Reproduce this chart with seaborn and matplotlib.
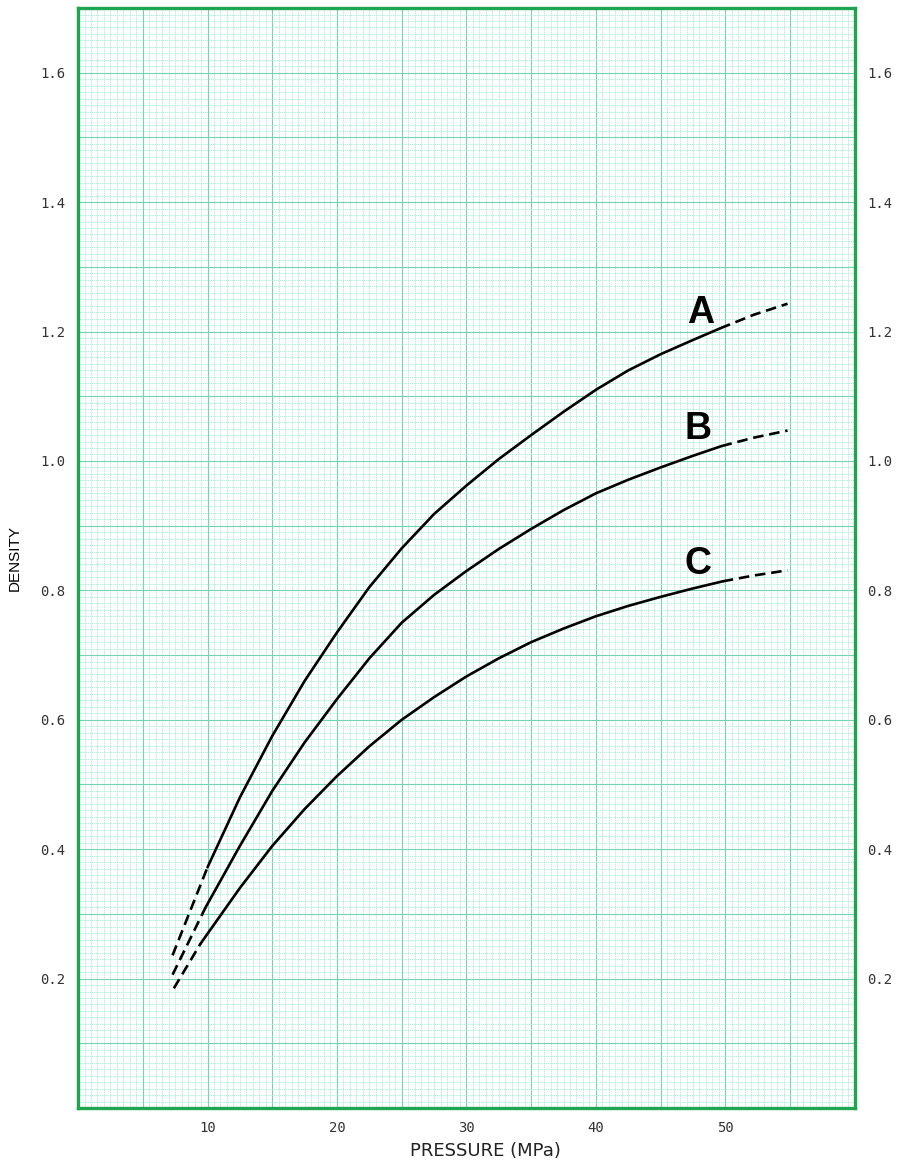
import pandas as pd
import matplotlib
matplotlib.use('Agg')
import matplotlib.pyplot as plt
from matplotlib.ticker import MultipleLocator, FuncFormatter
import seaborn as sns

# Curve values (pressure in MPa, density)
a_x = [10, 12.5, 15, 17.5, 20, 22.5, 25, 27.5, 30, 32.5, 35, 37.5, 40, 42.5, 45, 47.5, 49.6]
a_y = [0.372, 0.48, 0.575, 0.66, 0.735, 0.805, 0.865, 0.918, 0.962, 1.003, 1.04, 1.076,
       1.11, 1.14, 1.165, 1.187, 1.205]
b_x = [9.85, 12.5, 15, 17.5, 20, 22.5, 25, 27.5, 30, 32.5, 35, 37.5, 40, 42.5, 45, 47.5, 49.7]
b_y = [0.31, 0.405, 0.49, 0.565, 0.632, 0.695, 0.75, 0.793, 0.83, 0.864, 0.895, 0.924,
       0.95, 0.971, 0.99, 1.008, 1.023]
c_x = [9.46, 12.5, 15, 17.5, 20, 22.5, 25, 27.5, 30, 32.5, 35, 37.5, 40, 42.5, 45, 47.5, 49.8]
c_y = [0.254, 0.34, 0.405, 0.462, 0.513, 0.559, 0.60, 0.635, 0.667, 0.695, 0.72, 0.741,
       0.76, 0.776, 0.79, 0.803, 0.814]

# Extrapolated (dashed) parts at both ends
a_lo_x, a_lo_y = [7.3, 10], [0.236, 0.372]
b_lo_x, b_lo_y = [7.3, 9.85], [0.206, 0.31]
c_lo_x, c_lo_y = [7.4, 9.46], [0.185, 0.254]
a_hi_x, a_hi_y = [49.6, 52.2, 54.8], [1.205, 1.226, 1.243]
b_hi_x, b_hi_y = [49.7, 52.2, 54.8], [1.023, 1.036, 1.047]
c_hi_x, c_hi_y = [49.8, 52.2, 54.8], [0.814, 0.823, 0.831]

curve_names = ['A', 'B', 'C']
x_tick_vals = [10, 20, 30, 40, 50]
y_tick_vals = [0.2, 0.4, 0.6, 0.8, 1.0, 1.2, 1.4, 1.6]

sns.set_style('white')
plt.rcParams['font.family'] = ['DejaVu Sans']

fig = plt.figure(figsize=(8.97, 11.64), dpi=100)
ax = fig.add_axes([0.087, 0.0481, 0.866, 0.945])

# graph paper grid
ax.xaxis.set_major_locator(MultipleLocator(5))
ax.xaxis.set_minor_locator(MultipleLocator(0.5))
ax.yaxis.set_major_locator(MultipleLocator(0.1))
ax.yaxis.set_minor_locator(MultipleLocator(0.01))
ax.grid(which='minor', color='#a8ecd6', linewidth=0.6, linestyle=(0, (1.5, 0.8)))
ax.grid(which='major', color='#72d4b0', linewidth=0.8)
ax.set_axisbelow(True)

# solid measured parts
for xs, ys in [(a_x, a_y), (b_x, b_y), (c_x, c_y)]:
    sns.lineplot(x=xs, y=ys, ax=ax, color='black', linewidth=1.9, sort=False)

# dashed extrapolations
for xs, ys in [(a_lo_x, a_lo_y), (b_lo_x, b_lo_y), (c_lo_x, c_lo_y),
               (a_hi_x, a_hi_y), (b_hi_x, b_hi_y), (c_hi_x, c_hi_y)]:
    line = sns.lineplot(x=xs, y=ys, ax=ax, color='black', linewidth=1.9, sort=False)
    line.lines[-1].set_dashes((4, 2.2))

# curve letters
label_pos = [(48.1, 1.228), (47.9, 1.05), (47.9, 0.84)]
for name, (lx, ly) in zip(curve_names, label_pos):
    ax.text(lx, ly, name, fontsize=27, fontweight='bold', ha='center', va='center',
            color='black', family=['Liberation Sans', 'DejaVu Sans'])

ax.set_xlim(0, 60)
ax.set_ylim(0, 1.7)

ax.xaxis.set_major_formatter(FuncFormatter(
    lambda v, p: f'{v:.0f}' if round(v) in x_tick_vals else ''))
ax.yaxis.set_major_formatter(FuncFormatter(
    lambda v, p: f'{v:.1f}' if any(abs(v - t) < 1e-6 for t in y_tick_vals) else ''))
ax.tick_params(which='both', length=0)
ax.tick_params(axis='y', labelright=True, pad=9)
ax.tick_params(axis='x', pad=9)
for lab in ax.get_xticklabels() + ax.get_yticklabels():
    lab.set_family('DejaVu Sans Mono')
    lab.set_fontsize(10)
    lab.set_color('#333333')

for sp in ax.spines.values():
    sp.set_visible(True)
    sp.set_color('#1ea550')
    sp.set_linewidth(2.4)

ax.set_ylabel('DENSITY', fontsize=11, color='black', family=['Liberation Sans', 'DejaVu Sans'])
ax.yaxis.set_label_coords(-0.072, 0.5)
ax.set_xlabel('PRESSURE (MPa)', fontsize=13, color='#222222',
              family=['Liberation Sans Narrow', 'DejaVu Sans'])
ax.xaxis.set_label_coords(0.524, -0.031)

fig.savefig('out.png', dpi=100)
